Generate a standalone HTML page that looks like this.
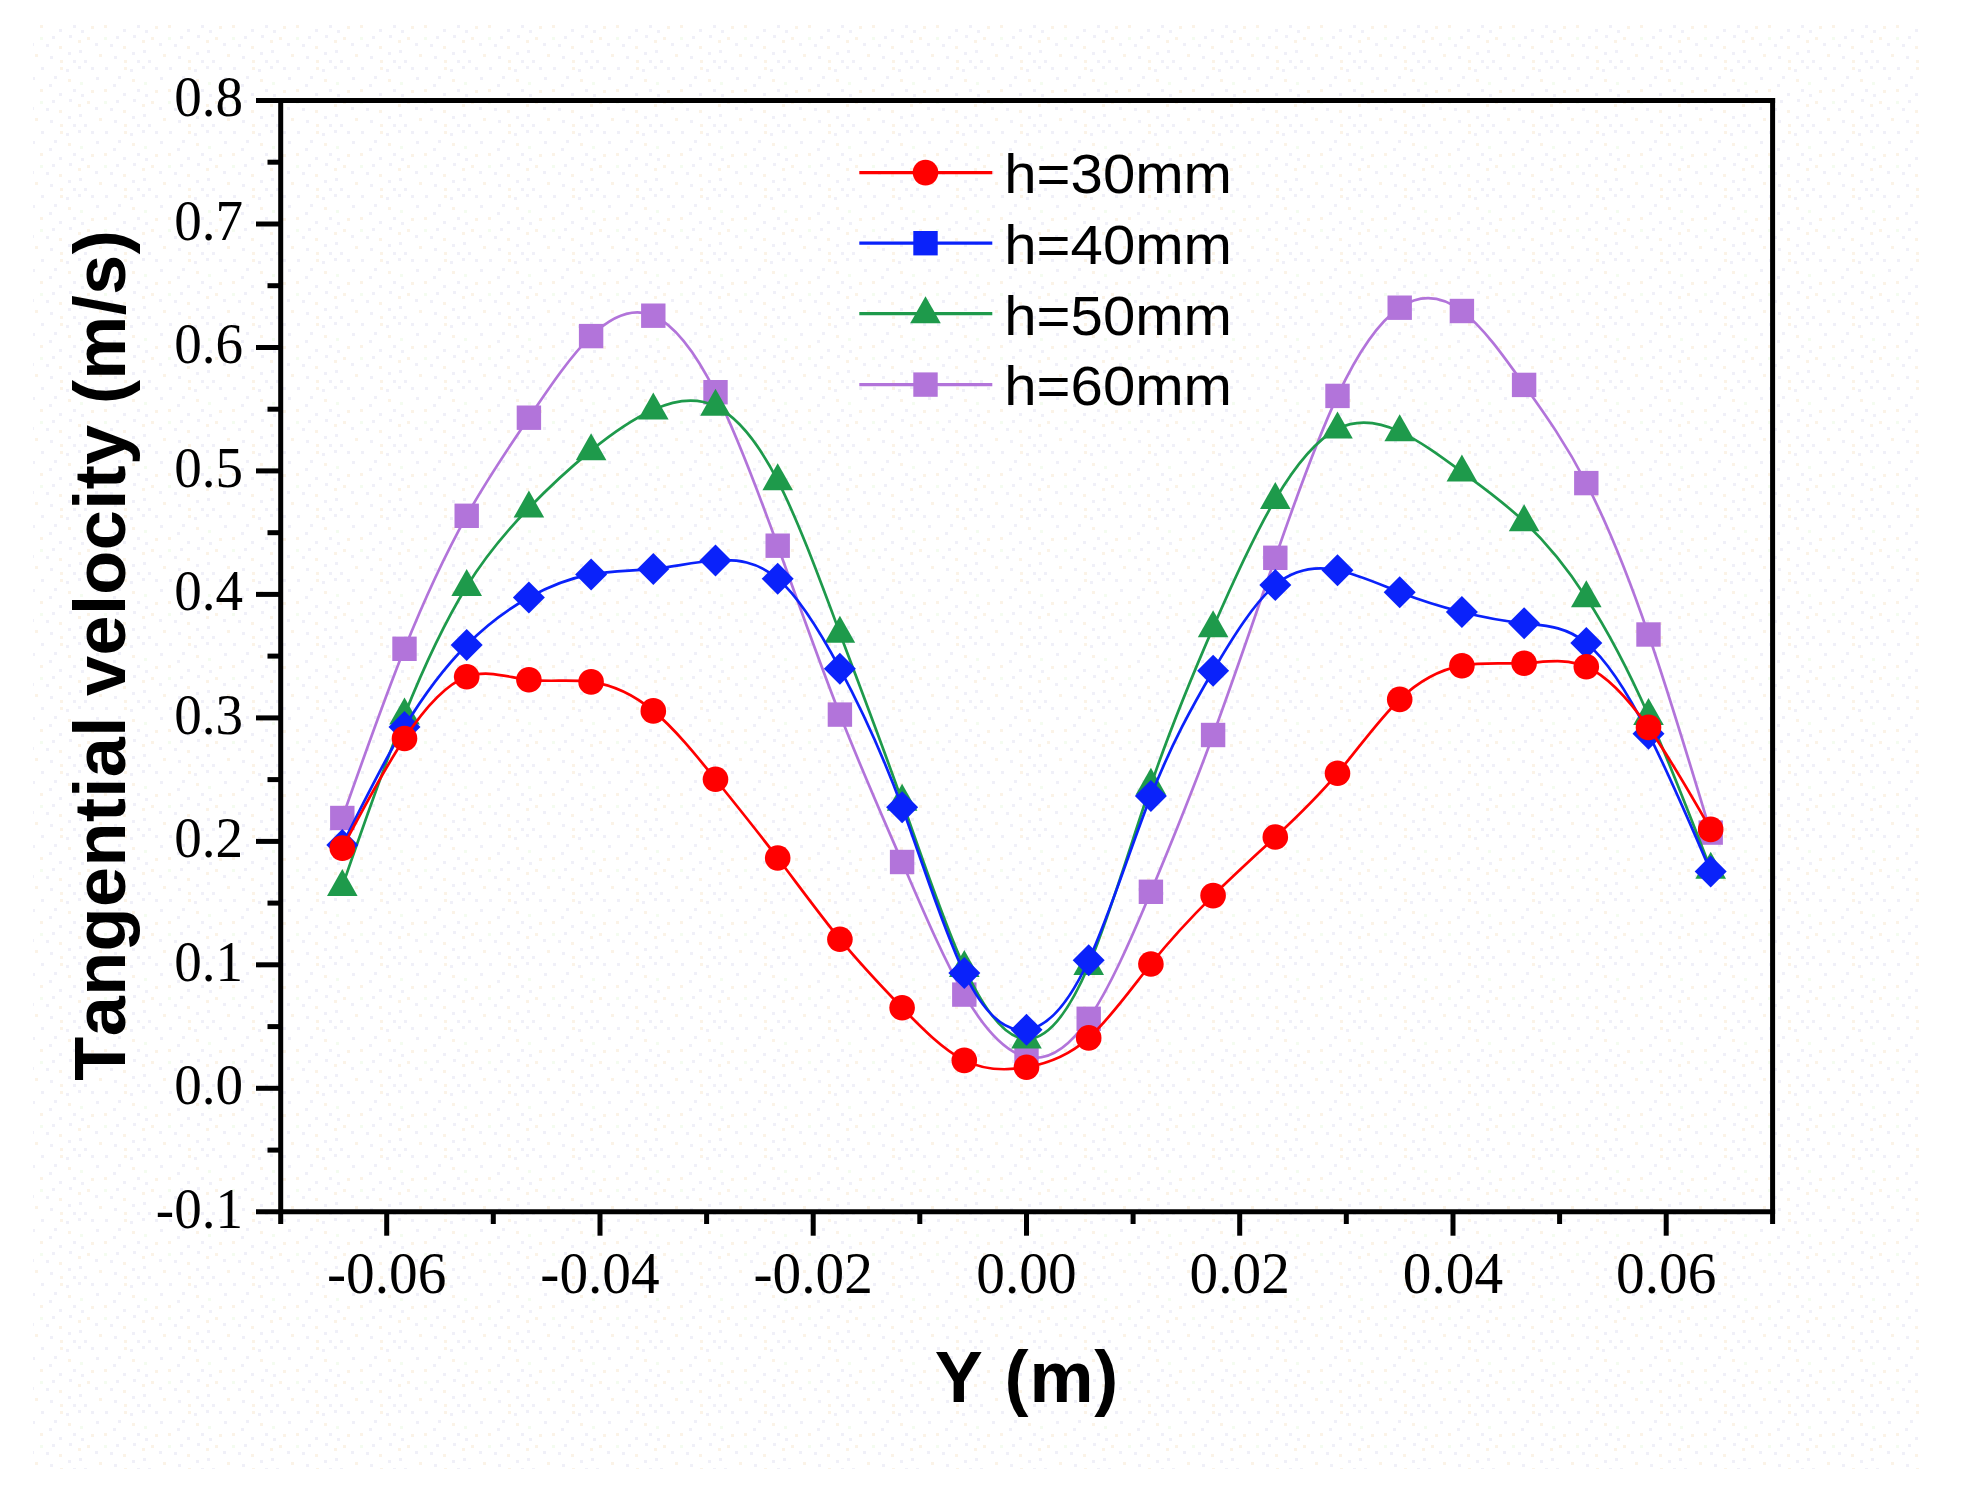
<!DOCTYPE html>
<html><head><meta charset="utf-8"><title>Tangential velocity</title>
<style>
html,body{margin:0;padding:0;background:#fff;}
svg{display:block}
.tick{font-family:"Liberation Serif","Times New Roman",serif;font-size:56.5px;fill:#000;font-kerning:none}
.xt{font-size:60px}
.ttl{font-family:"Liberation Sans",Arial,sans-serif;font-weight:bold;font-size:72px;fill:#000;font-kerning:none}
.leg{font-family:"Liberation Sans",Arial,sans-serif;font-size:56px;fill:#000;font-kerning:none}
</style></head><body>
<svg width="1961" height="1492" viewBox="0 0 1961 1492">
<rect x="0" y="0" width="1961" height="1492" fill="#ffffff"/>
<defs><pattern id="dots" width="64" height="64" patternUnits="userSpaceOnUse"><rect x="20" y="60" width="3" height="3" fill="#f0f0f8"/><rect x="9" y="25" width="3" height="3" fill="#f0f0f8"/><rect x="41" y="3" width="3" height="3" fill="#f0f0f8"/><rect x="4" y="52" width="3" height="3" fill="#f0f0f8"/><rect x="23" y="37" width="3" height="3" fill="#fbf3e7"/><rect x="32" y="13" width="3" height="3" fill="#f0f0f8"/><rect x="2" y="5" width="3" height="3" fill="#f0f0f8"/><rect x="27" y="26" width="3" height="3" fill="#fbf3e7"/><rect x="4" y="15" width="3" height="3" fill="#fbf3e7"/><rect x="5" y="35" width="3" height="3" fill="#f0f0f8"/><rect x="27" y="3" width="3" height="3" fill="#f0f0f8"/><rect x="52" y="36" width="3" height="3" fill="#f0f0f8"/><rect x="14" y="40" width="3" height="3" fill="#fbf3e7"/><rect x="40" y="37" width="3" height="3" fill="#f4fcf0"/><rect x="60" y="3" width="3" height="3" fill="#fbf3e7"/><rect x="14" y="2" width="3" height="3" fill="#f0f0f8"/><rect x="35" y="54" width="3" height="3" fill="#fbf3e7"/><rect x="31" y="43" width="3" height="3" fill="#f0f0f8"/><rect x="49" y="20" width="3" height="3" fill="#f0f0f8"/><rect x="59" y="29" width="3" height="3" fill="#f0f0f8"/><rect x="15" y="50" width="3" height="3" fill="#f0f0f8"/><rect x="50" y="56" width="3" height="3" fill="#f0f0f8"/><rect x="17" y="30" width="3" height="3" fill="#f0f0f8"/><rect x="46" y="44" width="3" height="3" fill="#f0f0f8"/><rect x="16" y="18" width="3" height="3" fill="#f4fcf0"/><rect x="40" y="25" width="3" height="3" fill="#fbf3e7"/><rect x="60" y="60" width="3" height="3" fill="#fbf3e7"/><rect x="54" y="12" width="3" height="3" fill="#f0f0f8"/><rect x="59" y="46" width="3" height="3" fill="#fbf3e7"/><rect x="9" y="60" width="3" height="3" fill="#f0f0f8"/></pattern></defs>
<rect x="33" y="25" width="1889" height="1444" fill="url(#dots)"/>

<g stroke="#000" stroke-width="5" fill="none" stroke-linecap="butt">
<path d="M256,100.5H1775.1"/>
<path d="M256,1211.8H1775.1"/>
<path d="M280.7,98.0V1224"/>
<path d="M1772.6,98.0V1224"/>
<path d="M267.5,162.2H280.7"/>
<path d="M256,224.0H280.7"/>
<path d="M267.5,285.7H280.7"/>
<path d="M256,347.5H280.7"/>
<path d="M267.5,409.2H280.7"/>
<path d="M256,470.9H280.7"/>
<path d="M267.5,532.7H280.7"/>
<path d="M256,594.4H280.7"/>
<path d="M267.5,656.1H280.7"/>
<path d="M256,717.9H280.7"/>
<path d="M267.5,779.6H280.7"/>
<path d="M256,841.4H280.7"/>
<path d="M267.5,903.1H280.7"/>
<path d="M256,964.8H280.7"/>
<path d="M267.5,1026.6H280.7"/>
<path d="M256,1088.3H280.7"/>
<path d="M267.5,1150.1H280.7"/>
<path d="M386.7,1211.8V1235.7"/>
<path d="M493.3,1211.8V1224"/>
<path d="M600.0,1211.8V1235.7"/>
<path d="M706.6,1211.8V1224"/>
<path d="M813.2,1211.8V1235.7"/>
<path d="M919.8,1211.8V1224"/>
<path d="M1026.5,1211.8V1235.7"/>
<path d="M1133.1,1211.8V1224"/>
<path d="M1239.7,1211.8V1235.7"/>
<path d="M1346.3,1211.8V1224"/>
<path d="M1453.0,1211.8V1235.7"/>
<path d="M1559.6,1211.8V1224"/>
<path d="M1666.2,1211.8V1235.7"/>
</g>
<text class="tick" transform="translate(243,116.2) scale(0.975,1)" text-anchor="end">0.8</text>
<text class="tick" transform="translate(243,239.7) scale(0.975,1)" text-anchor="end">0.7</text>
<text class="tick" transform="translate(243,363.2) scale(0.975,1)" text-anchor="end">0.6</text>
<text class="tick" transform="translate(243,486.6) scale(0.975,1)" text-anchor="end">0.5</text>
<text class="tick" transform="translate(243,610.1) scale(0.975,1)" text-anchor="end">0.4</text>
<text class="tick" transform="translate(243,733.6) scale(0.975,1)" text-anchor="end">0.3</text>
<text class="tick" transform="translate(243,857.1) scale(0.975,1)" text-anchor="end">0.2</text>
<text class="tick" transform="translate(243,980.5) scale(0.975,1)" text-anchor="end">0.1</text>
<text class="tick" transform="translate(243,1104.0) scale(0.975,1)" text-anchor="end">0.0</text>
<text class="tick" transform="translate(243,1227.5) scale(0.975,1)" text-anchor="end">-0.1</text>
<text class="tick xt" transform="translate(386.7,1292.6) scale(0.955,1)" text-anchor="middle">-0.06</text>
<text class="tick xt" transform="translate(600.0,1292.6) scale(0.955,1)" text-anchor="middle">-0.04</text>
<text class="tick xt" transform="translate(813.2,1292.6) scale(0.955,1)" text-anchor="middle">-0.02</text>
<text class="tick xt" transform="translate(1026.5,1292.6) scale(0.955,1)" text-anchor="middle">0.00</text>
<text class="tick xt" transform="translate(1239.7,1292.6) scale(0.955,1)" text-anchor="middle">0.02</text>
<text class="tick xt" transform="translate(1453.0,1292.6) scale(0.955,1)" text-anchor="middle">0.04</text>
<text class="tick xt" transform="translate(1666.2,1292.6) scale(0.955,1)" text-anchor="middle">0.06</text>
<text class="ttl" x="1027" y="1402.3" text-anchor="middle" letter-spacing="0.9">Y (m)</text>
<text class="ttl" transform="translate(124.8,655.3) rotate(-90)" text-anchor="middle" letter-spacing="0.42">Tangential velocity (m/s)</text>
<g><path d="M342.3,818.0C363.0,759.2 383.8,700.3 404.5,648.8C425.2,597.3 446.0,553.0 466.7,515.8C487.4,478.6 508.2,448.3 528.9,417.7C549.6,387.1 570.4,356.1 591.1,336.1C611.8,316.1 632.6,306.9 653.3,315.7C674.0,324.5 694.8,351.2 715.5,392.2C736.2,433.2 757.0,488.6 777.7,545.7C798.4,602.8 819.2,661.8 839.9,714.6C860.6,767.4 881.4,814.1 902.1,862.0C922.8,909.9 943.6,959.0 964.3,994.6C985.0,1030.2 1005.8,1052.3 1026.5,1057.0C1047.2,1061.7 1068.0,1048.9 1088.7,1018.8C1109.4,988.7 1130.2,941.2 1150.9,891.8C1171.6,842.4 1192.4,791.2 1213.1,735.0C1233.8,678.8 1254.6,617.5 1275.3,557.8C1296.0,498.1 1316.8,440.0 1337.5,395.9C1358.2,351.8 1379.0,321.8 1399.7,307.7C1420.4,293.6 1441.2,295.5 1461.9,311.0C1482.6,326.5 1503.4,355.8 1524.1,384.9C1544.8,414.0 1565.6,443.0 1586.3,483.1C1607.0,523.2 1627.8,574.4 1648.5,634.5C1669.2,694.6 1690.0,763.6 1710.7,832.6" fill="none" stroke="#b274da" stroke-width="2.7" stroke-linejoin="round"/>
<rect x="330.1" y="805.8" width="24.4" height="24.4" fill="#b274da"/><rect x="392.3" y="636.6" width="24.4" height="24.4" fill="#b274da"/><rect x="454.5" y="503.6" width="24.4" height="24.4" fill="#b274da"/><rect x="516.7" y="405.5" width="24.4" height="24.4" fill="#b274da"/><rect x="578.9" y="323.9" width="24.4" height="24.4" fill="#b274da"/><rect x="641.1" y="303.5" width="24.4" height="24.4" fill="#b274da"/><rect x="703.3" y="380.0" width="24.4" height="24.4" fill="#b274da"/><rect x="765.5" y="533.5" width="24.4" height="24.4" fill="#b274da"/><rect x="827.7" y="702.4" width="24.4" height="24.4" fill="#b274da"/><rect x="889.9" y="849.8" width="24.4" height="24.4" fill="#b274da"/><rect x="952.1" y="982.4" width="24.4" height="24.4" fill="#b274da"/><rect x="1014.3" y="1044.8" width="24.4" height="24.4" fill="#b274da"/><rect x="1076.5" y="1006.6" width="24.4" height="24.4" fill="#b274da"/><rect x="1138.7" y="879.6" width="24.4" height="24.4" fill="#b274da"/><rect x="1200.9" y="722.8" width="24.4" height="24.4" fill="#b274da"/><rect x="1263.1" y="545.6" width="24.4" height="24.4" fill="#b274da"/><rect x="1325.3" y="383.7" width="24.4" height="24.4" fill="#b274da"/><rect x="1387.5" y="295.5" width="24.4" height="24.4" fill="#b274da"/><rect x="1449.7" y="298.8" width="24.4" height="24.4" fill="#b274da"/><rect x="1511.9" y="372.7" width="24.4" height="24.4" fill="#b274da"/><rect x="1574.1" y="470.9" width="24.4" height="24.4" fill="#b274da"/><rect x="1636.3" y="622.3" width="24.4" height="24.4" fill="#b274da"/><rect x="1698.5" y="820.4" width="24.4" height="24.4" fill="#b274da"/>
</g>
<g><path d="M342.3,886.4C363.0,826.5 383.8,766.6 404.5,715.0C425.2,663.4 446.0,620.0 466.7,586.5C487.4,553.0 508.2,529.4 528.9,508.0C549.6,486.6 570.4,467.5 591.1,450.6C611.8,433.7 632.6,419.2 653.3,409.8C674.0,400.4 694.8,396.2 715.5,406.2C736.2,416.2 757.0,440.3 777.7,480.7C798.4,521.1 819.2,577.8 839.9,633.2C860.6,688.6 881.4,742.7 902.1,801.2C922.8,859.7 943.6,922.6 964.3,967.3C985.0,1012.0 1005.8,1038.5 1026.5,1039.0C1047.2,1039.5 1068.0,1014.0 1088.7,965.5C1109.4,917.0 1130.2,845.7 1150.9,785.2C1171.6,724.7 1192.4,675.2 1213.1,627.6C1233.8,580.0 1254.6,534.5 1275.3,499.4C1296.0,464.3 1316.8,439.6 1337.5,429.0C1358.2,418.4 1379.0,422.0 1399.7,431.6C1420.4,441.2 1441.2,456.7 1461.9,471.9C1482.6,487.1 1503.4,501.9 1524.1,521.6C1544.8,541.3 1565.6,565.8 1586.3,597.7C1607.0,629.6 1627.8,668.9 1648.5,715.4C1669.2,761.9 1690.0,815.5 1710.7,869.2" fill="none" stroke="#1e9a4b" stroke-width="2.7" stroke-linejoin="round"/>
<path d="M342.3,869.0L357.6,896.0L327.0,896.0Z" fill="#1e9a4b"/><path d="M404.5,697.6L419.8,724.6L389.2,724.6Z" fill="#1e9a4b"/><path d="M466.7,569.1L482.0,596.1L451.4,596.1Z" fill="#1e9a4b"/><path d="M528.9,490.6L544.2,517.6L513.6,517.6Z" fill="#1e9a4b"/><path d="M591.1,433.2L606.4,460.2L575.8,460.2Z" fill="#1e9a4b"/><path d="M653.3,392.4L668.6,419.4L638.0,419.4Z" fill="#1e9a4b"/><path d="M715.5,388.8L730.8,415.8L700.2,415.8Z" fill="#1e9a4b"/><path d="M777.7,463.3L793.0,490.3L762.4,490.3Z" fill="#1e9a4b"/><path d="M839.9,615.8L855.2,642.8L824.6,642.8Z" fill="#1e9a4b"/><path d="M902.1,783.8L917.4,810.8L886.8,810.8Z" fill="#1e9a4b"/><path d="M964.3,949.9L979.6,976.9L949.0,976.9Z" fill="#1e9a4b"/><path d="M1026.5,1021.6L1041.8,1048.6L1011.2,1048.6Z" fill="#1e9a4b"/><path d="M1088.7,948.1L1104.0,975.1L1073.4,975.1Z" fill="#1e9a4b"/><path d="M1150.9,767.8L1166.2,794.8L1135.6,794.8Z" fill="#1e9a4b"/><path d="M1213.1,610.2L1228.4,637.2L1197.8,637.2Z" fill="#1e9a4b"/><path d="M1275.3,482.0L1290.6,509.0L1260.0,509.0Z" fill="#1e9a4b"/><path d="M1337.5,411.6L1352.8,438.6L1322.2,438.6Z" fill="#1e9a4b"/><path d="M1399.7,414.2L1415.0,441.2L1384.4,441.2Z" fill="#1e9a4b"/><path d="M1461.9,454.5L1477.2,481.5L1446.6,481.5Z" fill="#1e9a4b"/><path d="M1524.1,504.2L1539.4,531.2L1508.8,531.2Z" fill="#1e9a4b"/><path d="M1586.3,580.3L1601.6,607.3L1571.0,607.3Z" fill="#1e9a4b"/><path d="M1648.5,698.0L1663.8,725.0L1633.2,725.0Z" fill="#1e9a4b"/><path d="M1710.7,851.8L1726.0,878.8L1695.4,878.8Z" fill="#1e9a4b"/>
</g>
<g><path d="M342.3,845.0C363.0,803.2 383.8,761.3 404.5,727.0C425.2,692.7 446.0,665.9 466.7,645.0C487.4,624.1 508.2,609.0 528.9,597.5C549.6,586.0 570.4,578.1 591.1,574.4C611.8,570.7 632.6,571.1 653.3,568.9C674.0,566.7 694.8,561.9 715.5,560.5C736.2,559.1 757.0,561.1 777.7,578.8C798.4,596.5 819.2,630.0 839.9,668.7C860.6,707.4 881.4,751.4 902.1,807.2C922.8,863.0 943.6,930.6 964.3,973.0C985.0,1015.4 1005.8,1032.4 1026.5,1029.8C1047.2,1027.2 1068.0,1004.9 1088.7,960.2C1109.4,915.5 1130.2,848.4 1150.9,796.0C1171.6,743.6 1192.4,706.0 1213.1,670.7C1233.8,635.4 1254.6,602.4 1275.3,585.1C1296.0,567.8 1316.8,566.1 1337.5,570.2C1358.2,574.3 1379.0,584.1 1399.7,592.2C1420.4,600.3 1441.2,606.8 1461.9,612.0C1482.6,617.2 1503.4,621.1 1524.1,623.3C1544.8,625.5 1565.6,626.1 1586.3,643.0C1607.0,659.9 1627.8,693.0 1648.5,733.8C1669.2,774.6 1690.0,823.0 1710.7,871.5" fill="none" stroke="#0a22fa" stroke-width="2.7" stroke-linejoin="round"/>
<path d="M342.3,829.0L358.3,845.0L342.3,861.0L326.3,845.0Z" fill="#0a22fa"/><path d="M404.5,711.0L420.5,727.0L404.5,743.0L388.5,727.0Z" fill="#0a22fa"/><path d="M466.7,629.0L482.7,645.0L466.7,661.0L450.7,645.0Z" fill="#0a22fa"/><path d="M528.9,581.5L544.9,597.5L528.9,613.5L512.9,597.5Z" fill="#0a22fa"/><path d="M591.1,558.4L607.1,574.4L591.1,590.4L575.1,574.4Z" fill="#0a22fa"/><path d="M653.3,552.9L669.3,568.9L653.3,584.9L637.3,568.9Z" fill="#0a22fa"/><path d="M715.5,544.5L731.5,560.5L715.5,576.5L699.5,560.5Z" fill="#0a22fa"/><path d="M777.7,562.8L793.7,578.8L777.7,594.8L761.7,578.8Z" fill="#0a22fa"/><path d="M839.9,652.7L855.9,668.7L839.9,684.7L823.9,668.7Z" fill="#0a22fa"/><path d="M902.1,791.2L918.1,807.2L902.1,823.2L886.1,807.2Z" fill="#0a22fa"/><path d="M964.3,957.0L980.3,973.0L964.3,989.0L948.3,973.0Z" fill="#0a22fa"/><path d="M1026.5,1013.8L1042.5,1029.8L1026.5,1045.8L1010.5,1029.8Z" fill="#0a22fa"/><path d="M1088.7,944.2L1104.7,960.2L1088.7,976.2L1072.7,960.2Z" fill="#0a22fa"/><path d="M1150.9,780.0L1166.9,796.0L1150.9,812.0L1134.9,796.0Z" fill="#0a22fa"/><path d="M1213.1,654.7L1229.1,670.7L1213.1,686.7L1197.1,670.7Z" fill="#0a22fa"/><path d="M1275.3,569.1L1291.3,585.1L1275.3,601.1L1259.3,585.1Z" fill="#0a22fa"/><path d="M1337.5,554.2L1353.5,570.2L1337.5,586.2L1321.5,570.2Z" fill="#0a22fa"/><path d="M1399.7,576.2L1415.7,592.2L1399.7,608.2L1383.7,592.2Z" fill="#0a22fa"/><path d="M1461.9,596.0L1477.9,612.0L1461.9,628.0L1445.9,612.0Z" fill="#0a22fa"/><path d="M1524.1,607.3L1540.1,623.3L1524.1,639.3L1508.1,623.3Z" fill="#0a22fa"/><path d="M1586.3,627.0L1602.3,643.0L1586.3,659.0L1570.3,643.0Z" fill="#0a22fa"/><path d="M1648.5,717.8L1664.5,733.8L1648.5,749.8L1632.5,733.8Z" fill="#0a22fa"/><path d="M1710.7,855.5L1726.7,871.5L1710.7,887.5L1694.7,871.5Z" fill="#0a22fa"/>
</g>
<g><path d="M342.3,848.1C363.0,808.9 383.8,769.6 404.5,738.5C425.2,707.4 446.0,684.3 466.7,676.8C487.4,669.3 508.2,677.4 528.9,679.8C549.6,682.2 570.4,679.0 591.1,681.9C611.8,684.8 632.6,693.7 653.3,710.9C674.0,728.1 694.8,753.6 715.5,779.3C736.2,805.0 757.0,830.8 777.7,858.0C798.4,885.2 819.2,913.9 839.9,939.2C860.6,964.5 881.4,986.4 902.1,1007.8C922.8,1029.2 943.6,1050.0 964.3,1060.4C985.0,1070.8 1005.8,1070.8 1026.5,1067.2C1047.2,1063.6 1068.0,1056.3 1088.7,1037.9C1109.4,1019.5 1130.2,989.9 1150.9,964.0C1171.6,938.1 1192.4,916.1 1213.1,895.6C1233.8,875.1 1254.6,856.3 1275.3,837.0C1296.0,817.7 1316.8,797.9 1337.5,773.3C1358.2,748.7 1379.0,719.2 1399.7,699.4C1420.4,679.6 1441.2,669.5 1461.9,665.7C1482.6,661.9 1503.4,664.2 1524.1,663.2C1544.8,662.2 1565.6,657.7 1586.3,666.7C1607.0,675.7 1627.8,698.0 1648.5,727.4C1669.2,756.8 1690.0,793.1 1710.7,829.4" fill="none" stroke="#ff0000" stroke-width="2.7" stroke-linejoin="round"/>
<circle cx="342.3" cy="848.1" r="12.8" fill="#ff0000"/><circle cx="404.5" cy="738.5" r="12.8" fill="#ff0000"/><circle cx="466.7" cy="676.8" r="12.8" fill="#ff0000"/><circle cx="528.9" cy="679.8" r="12.8" fill="#ff0000"/><circle cx="591.1" cy="681.9" r="12.8" fill="#ff0000"/><circle cx="653.3" cy="710.9" r="12.8" fill="#ff0000"/><circle cx="715.5" cy="779.3" r="12.8" fill="#ff0000"/><circle cx="777.7" cy="858.0" r="12.8" fill="#ff0000"/><circle cx="839.9" cy="939.2" r="12.8" fill="#ff0000"/><circle cx="902.1" cy="1007.8" r="12.8" fill="#ff0000"/><circle cx="964.3" cy="1060.4" r="12.8" fill="#ff0000"/><circle cx="1026.5" cy="1067.2" r="12.8" fill="#ff0000"/><circle cx="1088.7" cy="1037.9" r="12.8" fill="#ff0000"/><circle cx="1150.9" cy="964.0" r="12.8" fill="#ff0000"/><circle cx="1213.1" cy="895.6" r="12.8" fill="#ff0000"/><circle cx="1275.3" cy="837.0" r="12.8" fill="#ff0000"/><circle cx="1337.5" cy="773.3" r="12.8" fill="#ff0000"/><circle cx="1399.7" cy="699.4" r="12.8" fill="#ff0000"/><circle cx="1461.9" cy="665.7" r="12.8" fill="#ff0000"/><circle cx="1524.1" cy="663.2" r="12.8" fill="#ff0000"/><circle cx="1586.3" cy="666.7" r="12.8" fill="#ff0000"/><circle cx="1648.5" cy="727.4" r="12.8" fill="#ff0000"/><circle cx="1710.7" cy="829.4" r="12.8" fill="#ff0000"/>
</g>
<path d="M859.3,172.6H992.3" stroke="#ff0000" stroke-width="3.2" fill="none"/>
<circle cx="925.5" cy="172.6" r="12.8" fill="#ff0000"/>
<text class="leg" transform="translate(1004.3,192.9) scale(1.038,1)">h=30mm</text>
<path d="M859.3,243.2H992.3" stroke="#0a22fa" stroke-width="3.2" fill="none"/>
<rect x="913.3" y="231.0" width="24.4" height="24.4" fill="#0a22fa"/>
<text class="leg" transform="translate(1004.3,263.6) scale(1.038,1)">h=40mm</text>
<path d="M859.3,313.7H992.3" stroke="#1e9a4b" stroke-width="3.2" fill="none"/>
<path d="M925.5,296.3L940.8,323.3L910.2,323.3Z" fill="#1e9a4b"/>
<text class="leg" transform="translate(1004.3,334.7) scale(1.038,1)">h=50mm</text>
<path d="M859.3,384.6H992.3" stroke="#b274da" stroke-width="3.2" fill="none"/>
<rect x="913.3" y="372.4" width="24.4" height="24.4" fill="#b274da"/>
<text class="leg" transform="translate(1004.3,405) scale(1.038,1)">h=60mm</text>
</svg></body></html>
